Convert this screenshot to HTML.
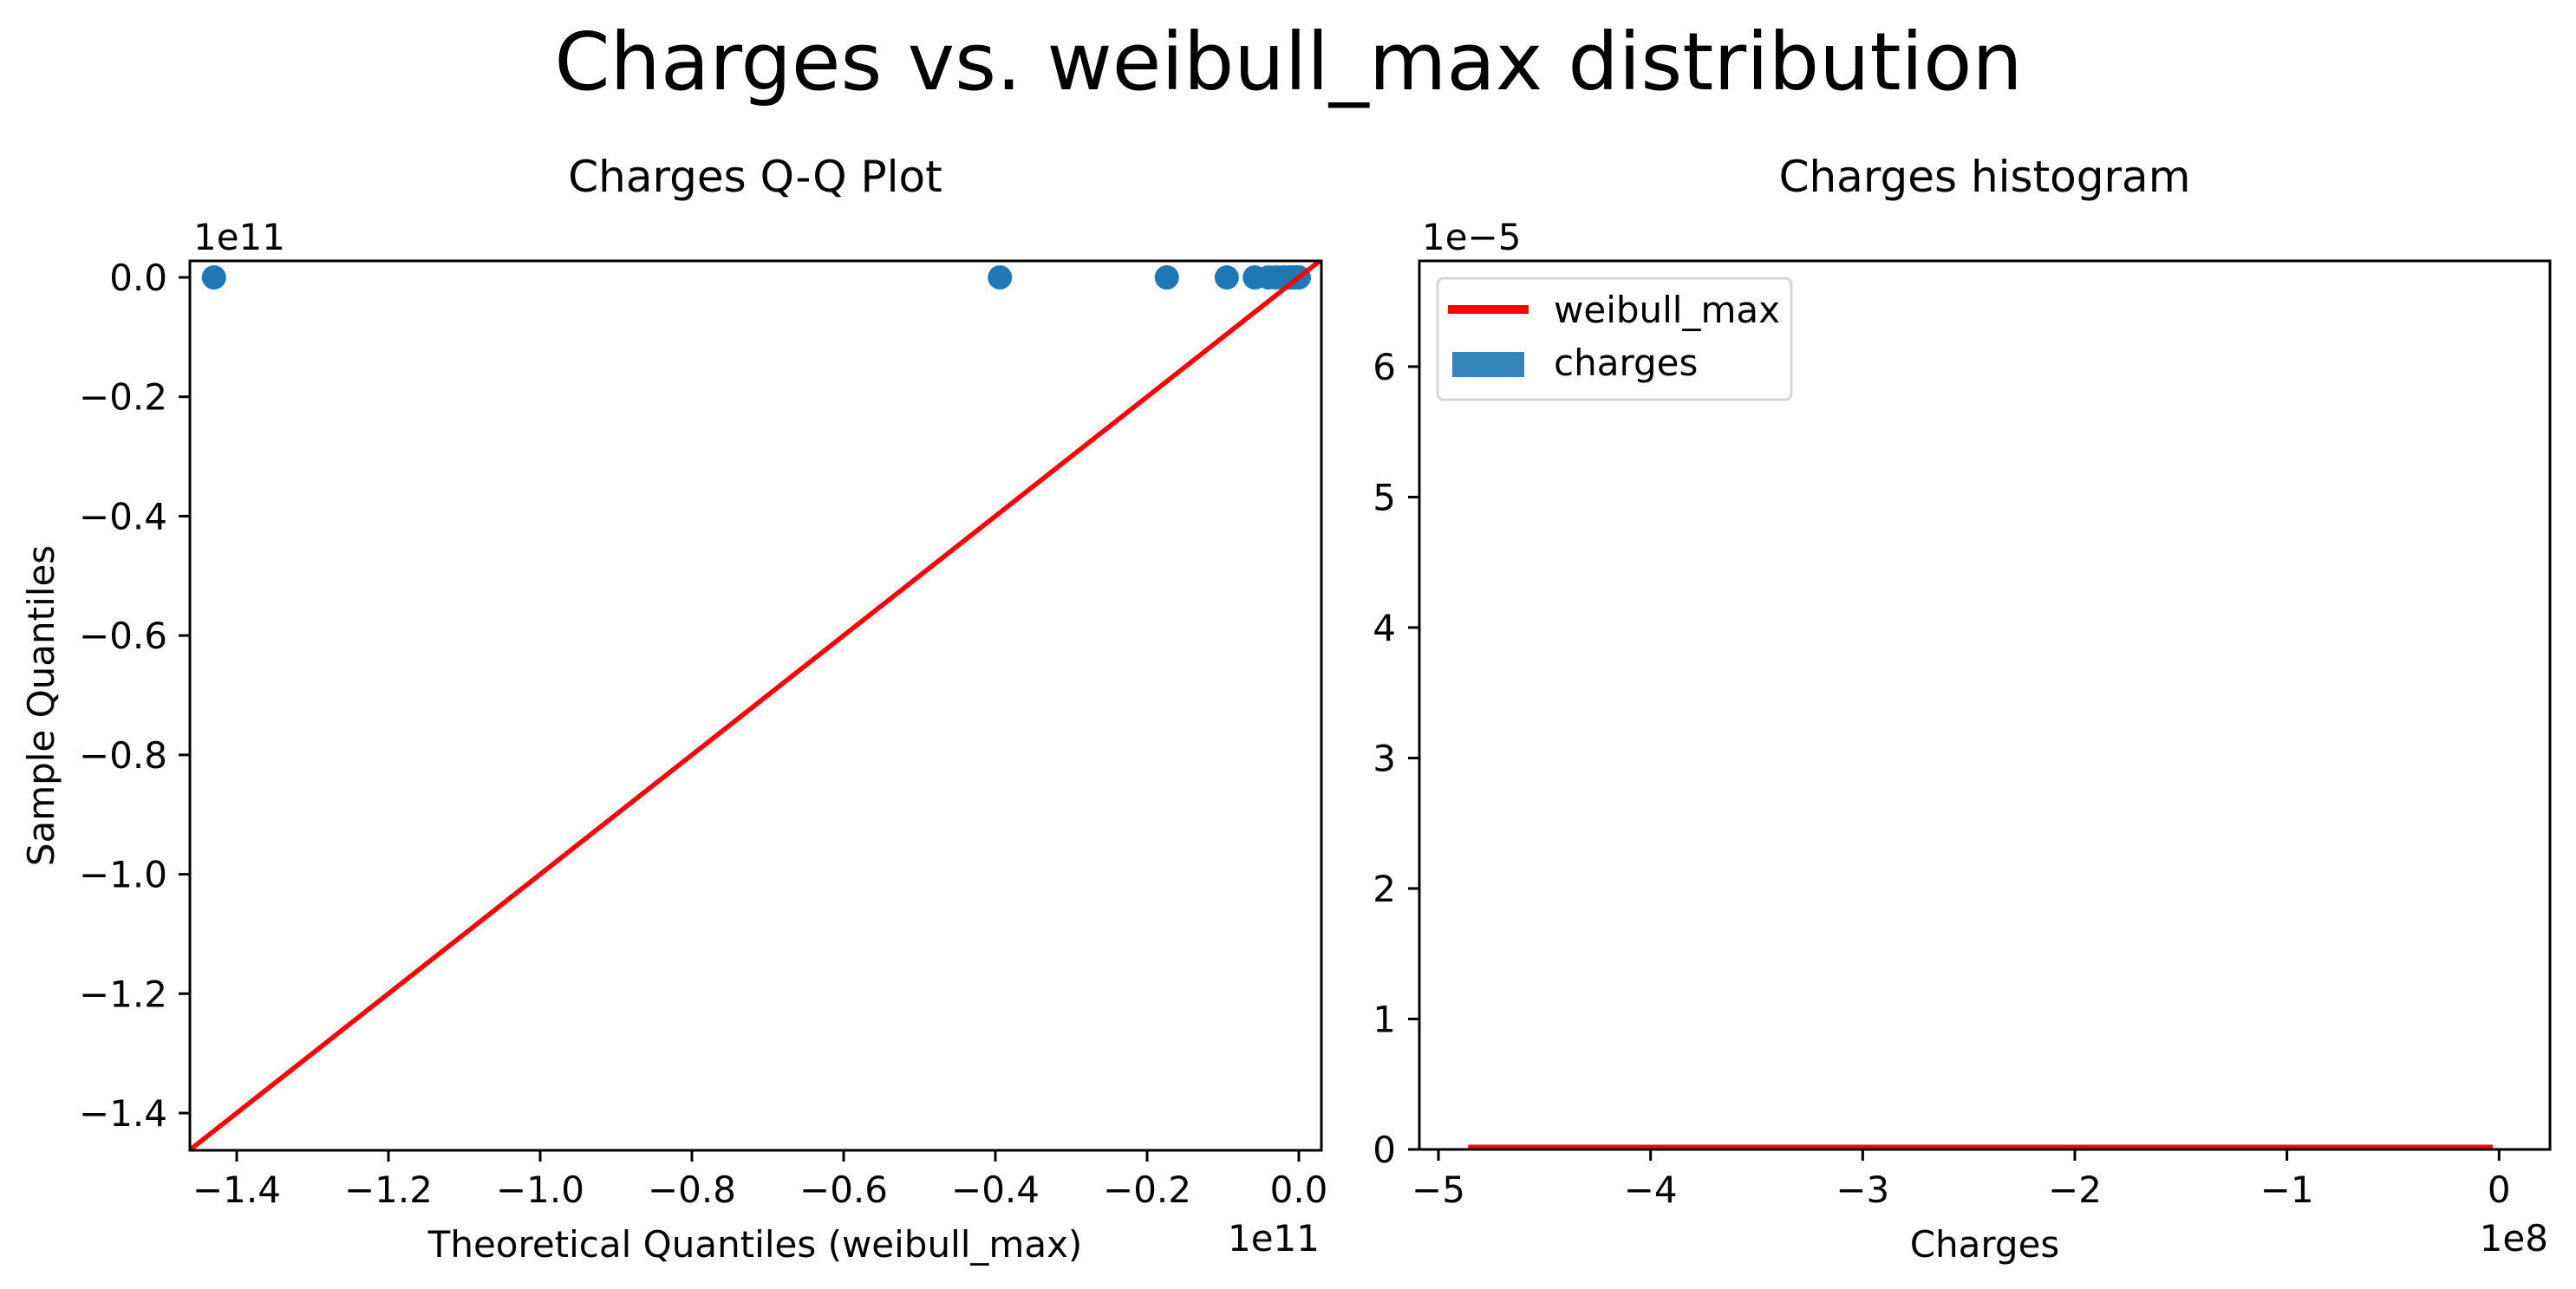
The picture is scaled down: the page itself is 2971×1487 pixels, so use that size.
<!DOCTYPE html>
<html><head><meta charset="utf-8">
<style>
html,body{margin:0;padding:0;background:#fff;}
svg{display:block;font-family:"DejaVu Sans","Liberation Sans",sans-serif;}
</style></head>
<body>
<svg id="fig" width="2971" height="1487" viewBox="0 0 2971 1487" xmlns="http://www.w3.org/2000/svg">
<rect width="2971" height="1487" fill="#fff"/>
<text x="1486" y="103" font-size="92" text-anchor="middle">Charges vs. weibull_max distribution</text>
<text x="871" y="221" font-size="50" text-anchor="middle">Charges Q-Q Plot</text>
<text x="2289" y="221" font-size="50" text-anchor="middle">Charges histogram</text>
<g id="qq"></g>
<g id="hist"></g>
</svg>
<script>
// Q-Q plot data (units of 1e11)
const qqTheoretical = [-1.43, -0.394, -0.174, -0.095, -0.058, -0.04, -0.03, -0.02, -0.012, -0.006, -0.002, 0.0];
const qqSample = [0, 0, 0, 0, 0, 0, 0, 0, 0, 0, 0, 0];
const qqXTicks = [-1.4, -1.2, -1.0, -0.8, -0.6, -0.4, -0.2, 0.0];
const qqYTicks = [0.0, -0.2, -0.4, -0.6, -0.8, -1.0, -1.2, -1.4];
const qqRefLine = [-1.47, 0.035];
// Histogram data (x in 1e8, y in 1e-5)
const pdfX = [-4.86, -0.03];
const pdfY = [0.02, 0.02];
const histXTicks = [-5, -4, -3, -2, -1, 0];
const histYTicks = [0, 1, 2, 3, 4, 5, 6];

const NS = "http://www.w3.org/2000/svg";
function mk(tag, attrs, parent){const e=document.createElementNS(NS,tag);for(const k in attrs)e.setAttribute(k,attrs[k]);parent.appendChild(e);return e;}
function fmt1(v){return (v<0?"\u2212":"")+Math.abs(v).toFixed(1);}
function fmt0(v){return (v<0?"\u2212":"")+Math.abs(v).toFixed(0);}

// ---- QQ axes
const qq=document.getElementById('qq');
const A={l:219,r:1524,t:301,b:1327};
const qxMin=-1.4617,qxMax=0.0297,qyMin=-1.4624,qyMax=0.0276;
const qx=v=>A.l+(v-qxMin)/(qxMax-qxMin)*(A.r-A.l);
const qy=v=>A.b-(v-qyMin)/(qyMax-qyMin)*(A.b-A.t);
const clip=mk('clipPath',{id:'qqclip'},qq);mk('rect',{x:A.l,y:A.t,width:A.r-A.l,height:A.b-A.t},clip);
qqTheoretical.forEach((v,i)=>{const c=mk('circle',{cx:qx(v),cy:qy(qqSample[i]),r:14,fill:'#1f77b4','clip-path':'url(#qqclip)'},qq);

});
const rl=mk('line',{x1:qx(qqRefLine[0]),y1:qy(qqRefLine[0]),x2:qx(qqRefLine[1]),y2:qy(qqRefLine[1]),stroke:'#ff0000','stroke-width':5.5,'clip-path':'url(#qqclip)'},qq);


const f1=mk('rect',{x:A.l,y:A.t,width:A.r-A.l,height:A.b-A.t,fill:'none',stroke:'#000','stroke-width':3},qq);


qqXTicks.forEach(v=>{const x=qx(v);mk('line',{x1:x,y1:A.b,x2:x,y2:A.b+13,stroke:'#000','stroke-width':3},qq);
const t=mk('text',{x:x,y:1387,'font-size':42,'text-anchor':'middle'},qq);t.textContent=fmt1(v);

});
qqYTicks.forEach(v=>{const y=qy(v);mk('line',{x1:A.l-13,y1:y,x2:A.l,y2:y,stroke:'#000','stroke-width':3},qq);
const t=mk('text',{x:193,y:y+15,'font-size':42,'text-anchor':'end'},qq);t.textContent=fmt1(v);

});
let t;
t=mk('text',{x:223,y:288,'font-size':42},qq);t.textContent='1e11';


t=mk('text',{x:1522,y:1443,'font-size':42,'text-anchor':'end'},qq);t.textContent='1e11';


t=mk('text',{x:871,y:1450,'font-size':42,'text-anchor':'middle'},qq);t.textContent='Theoretical Quantiles (weibull_max)';


t=mk('text',{x:62,y:814,'font-size':42,'text-anchor':'middle',transform:'rotate(-90 62 814)'},qq);t.textContent='Sample Quantiles';



// ---- Histogram axes
const hg=document.getElementById('hist');
const B={l:1637,r:2941,t:301,b:1326};
const hxMin=-5.09,hxMax=0.24,hyMin=0,hyMax=6.81;
const hx=v=>B.l+(v-hxMin)/(hxMax-hxMin)*(B.r-B.l);
const hy=v=>B.b-(v-hyMin)/(hyMax-hyMin)*(B.b-B.t);
const pl=mk('polyline',{points:pdfX.map((v,i)=>hx(v)+','+hy(pdfY[i])).join(' '),fill:'none',stroke:'#ff0000','stroke-width':5},hg);


const f2=mk('rect',{x:B.l,y:B.t,width:B.r-B.l,height:B.b-B.t,fill:'none',stroke:'#000','stroke-width':3},hg);


histXTicks.forEach(v=>{const x=hx(v);mk('line',{x1:x,y1:B.b,x2:x,y2:B.b+13,stroke:'#000','stroke-width':3},hg);
const tt=mk('text',{x:x,y:1387,'font-size':42,'text-anchor':'middle'},hg);tt.textContent=fmt0(v);

});
histYTicks.forEach(v=>{const y=hy(v);mk('line',{x1:B.l-13,y1:y,x2:B.l,y2:y,stroke:'#000','stroke-width':3},hg);
const tt=mk('text',{x:1610,y:y+15,'font-size':42,'text-anchor':'end'},hg);tt.textContent=fmt0(v);

});
t=mk('text',{x:1640,y:288,'font-size':42},hg);t.textContent='1e\u22125';


t=mk('text',{x:2939,y:1443,'font-size':42,'text-anchor':'end'},hg);t.textContent='1e8';


t=mk('text',{x:2289,y:1450,'font-size':42,'text-anchor':'middle'},hg);t.textContent='Charges';


// legend
const lg=mk('g',{},hg);


mk('rect',{x:1658,y:321,width:408,height:140,rx:7,fill:'#fff','fill-opacity':0.8,stroke:'#d6d6d6','stroke-width':3},lg);
mk('line',{x1:1670,y1:357,x2:1763,y2:357,stroke:'#ff0000','stroke-width':10},lg);
t=mk('text',{x:1792,y:372,'font-size':42},lg);t.textContent='weibull_max';


mk('rect',{x:1675,y:406,width:83,height:29,fill:'#3584bb'},lg);
t=mk('text',{x:1792,y:433,'font-size':42},lg);t.textContent='charges';


</script>
</body></html>
